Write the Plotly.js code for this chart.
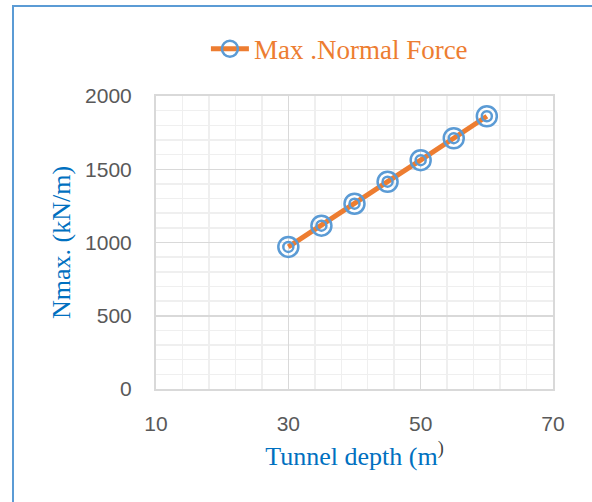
<!DOCTYPE html>
<html>
<head>
<meta charset="utf-8">
<script src="https://cdn.plot.ly/plotly-3.0.1.min.js"></script>
<style>
  html, body { margin: 0; padding: 0; background: #fff; }
  #wrap { position: relative; width: 592px; height: 502px; }
  #chart { width: 592px; height: 502px; }
  #frame { position: absolute; left: 12px; top: 5px; right: -10px; bottom: -10px;
           border-left: 2px solid #5B9BD5; border-top: 2px solid #5B9BD5; pointer-events: none; }
</style>
</head>
<body>
<div id="wrap">
  <div id="chart"></div>
  <div id="frame"></div>
</div>
<script>
// Data
const depth = [30, 35, 40, 45, 50, 55, 60];
const nmax = [970, 1115, 1265, 1415, 1562, 1712, 1862];
const seriesName = "Max .Normal Force";
const xTitle = "Tunnel depth (m<span style='color:#404040'><sup>)</sup></span>";
const yTitle = "Nmax. (kN/m)";

const blue = "#5B9BD5";
const orange = "#ED7D31";

const traces = [
  {
    x: depth, y: nmax, type: "scatter", mode: "lines+markers", name: seriesName,
    line: { color: orange, width: 5 },
    marker: { symbol: "circle-open", size: 20, color: blue, line: { color: blue, width: 2.5 } }
  },
  {
    x: depth, y: nmax, type: "scatter", mode: "markers", showlegend: false, hoverinfo: "skip",
    marker: { symbol: "circle-open", size: 10, color: blue, line: { color: blue, width: 2.5 } }
  }
];

const layout = {
  width: 592, height: 502,
  margin: { l: 156, r: 39, t: 96, b: 113 },
  paper_bgcolor: "#fff", plot_bgcolor: "#fff",
  showlegend: true,
  legend: {
    orientation: "h", x: 0.462, xanchor: "center", y: 1.16, yanchor: "middle",
    itemwidth: 38,
    font: { family: "Liberation Serif, Times New Roman, serif", size: 27, color: orange },
    bgcolor: "rgba(0,0,0,0)"
  },
  xaxis: {
    range: [10, 70], tickvals: [10, 30, 50, 70], ticks: "",
    ticklabelstandoff: 15,
    showgrid: true, gridcolor: "#d9d9d9", gridwidth: 1.5,
    minor: { dtick: 4, tick0: 10, showgrid: true, gridcolor: "#efefef", gridwidth: 1.5 },
    showline: true, linecolor: "#d9d9d9", linewidth: 2, mirror: true,
    zeroline: false,
    tickfont: { family: "Liberation Sans, Arial, sans-serif", size: 21, color: "#595959" },
    title: { text: xTitle, standoff: 13,
             font: { family: "Liberation Serif, Times New Roman, serif", size: 26, color: "#0070C0" } }
  },
  yaxis: {
    range: [0, 2000], dtick: 500, ticks: "",
    ticklabelstandoff: 18,
    showgrid: true, gridcolor: "#d9d9d9", gridwidth: 1.5,
    minor: { dtick: 100, showgrid: true, gridcolor: "#efefef", gridwidth: 1.5 },
    showline: true, linecolor: "#d9d9d9", linewidth: 2, mirror: true,
    zeroline: false,
    tickfont: { family: "Liberation Sans, Arial, sans-serif", size: 21, color: "#595959" },
    title: { text: yTitle, standoff: 7,
             font: { family: "Liberation Serif, Times New Roman, serif", size: 26, color: "#0070C0" } }
  }
};

Plotly.newPlot("chart", traces, layout, { staticPlot: true, displayModeBar: false });
</script>
</body>
</html>
